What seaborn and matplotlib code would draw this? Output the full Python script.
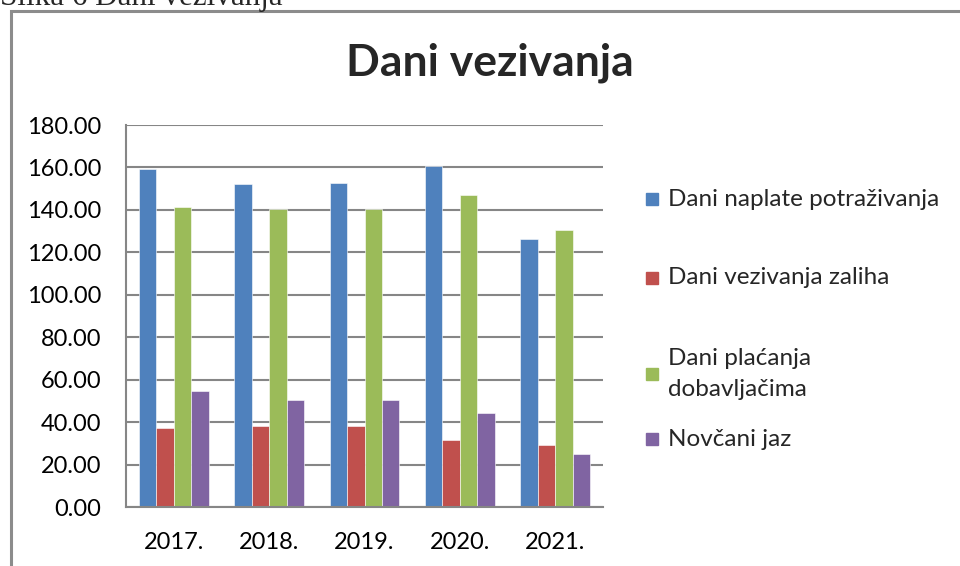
import pandas as pd
import seaborn as sns
import matplotlib.pyplot as plt
from matplotlib.patches import Rectangle

# data
years = ['2017.', '2018.', '2019.', '2020.', '2021.']
series = ['Dani naplate potraživanja', 'Dani vezivanja zaliha',
          'Dani plaćanja\ndobavljačima', 'Novčani jaz']
naplata = [159.3, 152.1, 152.5, 160.5, 126.4]
zalihe = [37.0, 38.2, 38.2, 31.5, 29.0]
placanje = [141.2, 140.4, 140.4, 147.2, 130.7]
jaz = [54.6, 50.3, 50.3, 44.2, 24.9]
colors = ['#4F81BD', '#C0504D', '#9BBB59', '#8064A2']

rows = []
for name, vals in zip(series, [naplata, zalihe, placanje, jaz]):
    for y, v in zip(years, vals):
        rows.append({'godina': y, 'serija': name, 'dani': v})
df = pd.DataFrame(rows)

sns.set_style('white')
plt.rcParams['font.family'] = ['Lato', 'DejaVu Sans']

fig = plt.figure(figsize=(9.6, 5.66), dpi=100)
ax = fig.add_axes([126 / 960, 1 - 507 / 566, (603 - 126) / 960, (507 - 125) / 566])

sns.barplot(data=df, x='godina', y='dani', hue='serija', palette=colors,
            width=0.73, gap=0, saturation=1, ax=ax, legend=False,
            edgecolor='white', linewidth=0.4)

ax.set_ylim(0, 180)
ax.set_yticks(range(0, 181, 20))
ax.set_yticklabels([f'{v:.2f}' for v in range(0, 181, 20)])
ax.set_xlim(-0.5, 4.5)
ax.set_xlabel('')
ax.set_ylabel('')
ax.yaxis.grid(True, color='#868686', lw=1.5)
ax.set_axisbelow(True)
for s in ['top', 'right']:
    ax.spines[s].set_visible(False)
for s in ['left', 'bottom']:
    ax.spines[s].set_color('#868686')
    ax.spines[s].set_linewidth(1.5)
ax.tick_params(axis='y', labelsize=17, length=3, color='#868686', pad=15, labelcolor='black')
ax.tick_params(axis='x', labelsize=17, length=0, pad=18, labelcolor='black')

# chart title
fig.text(490 / 960, 1 - 63 / 566, 'Dani vezivanja', ha='center', va='center',
         fontsize=32, fontweight='bold')

# legend drawn beside the plot area
legend_y = [199, 278, 374, 439]
for name, col, yy in zip(series, colors, legend_y):
    fig.patches.append(Rectangle((646 / 960, 1 - (yy + 6) / 566), 12 / 960, 12 / 566,
                                 transform=fig.transFigure, color=col))
    fig.text(668 / 960, 1 - yy / 566, name, ha='left', va='center',
             fontsize=17.5, linespacing=1.6)

# document caption and chart frame
fig.text(0.0, 1 - 5 / 566, 'Slika 6 Dani vezivanja', ha='left', va='baseline',
         fontsize=22.4, family='Liberation Serif')
fig.patches.append(Rectangle((11 / 960, -0.1), 1.2, 1 - 11 / 566 + 0.1,
                             transform=fig.transFigure, fill=False,
                             edgecolor='#8c8c8c', lw=2.2))

fig.savefig('out.png', dpi=100)
